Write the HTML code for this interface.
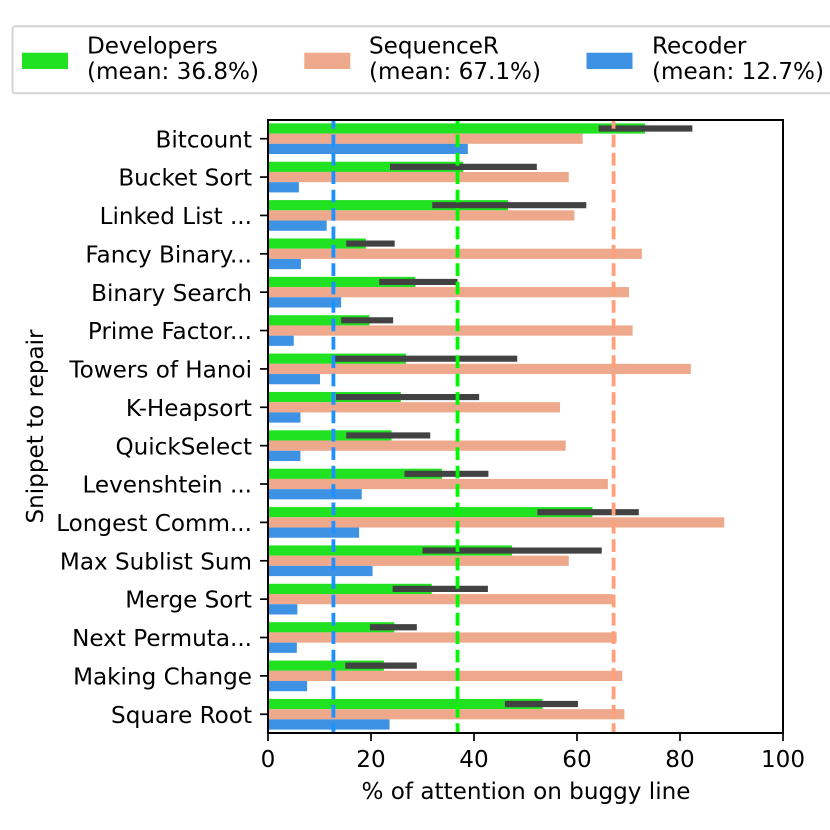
<!DOCTYPE html>
<html lang="en">
<head>
<meta charset="utf-8">
<title>Attention on buggy line</title>
<style>
html,body{margin:0;padding:0;background:#fff;width:830px;height:830px;overflow:hidden}
svg{display:block}
text{font-family:"DejaVu Sans","Liberation Sans",sans-serif;font-size:23.1px;fill:#000}
</style>
</head>
<body>
<svg id="chart" width="830" height="830" viewBox="0 0 830 830" xmlns="http://www.w3.org/2000/svg">
  <g>
    <rect x="12.5" y="26.3" width="830" height="67" rx="3" fill="#fff" stroke="#d4d4d4" stroke-width="2"/>
    <rect x="22" y="52.7" width="46" height="16.3" fill="#21e221"/>
    <text x="87" y="53.6">Developers</text>
    <text x="87" y="79">(mean: 36.8%)</text>
    <rect x="304.3" y="52.7" width="46" height="16.3" fill="#eea98c"/>
    <text x="369" y="53.6">SequenceR</text>
    <text x="369" y="79">(mean: 67.1%)</text>
    <rect x="586.5" y="52.7" width="46" height="16.3" fill="#3d92e4"/>
    <text x="652" y="53.6">Recoder</text>
    <text x="652" y="79">(mean: 12.7%)</text>
  </g>
  <g id="marks"></g>
  <g id="means"></g>
  <rect x="268" y="120" width="515" height="613" fill="none" stroke="#000" stroke-width="2"/>
  <g id="axes"></g>
  <text x="526" y="799" text-anchor="middle">% of attention on buggy line</text>
  <text transform="translate(43 426.5) rotate(-90)" text-anchor="middle">Snippet to repair</text>
</svg>
<script>
const categories = ["Bitcount","Bucket Sort","Linked List ...","Fancy Binary...","Binary Search","Prime Factor...","Towers of Hanoi","K-Heapsort","QuickSelect","Levenshtein ...","Longest Comm...","Max Sublist Sum","Merge Sort","Next Permuta...","Making Change","Square Root"];
const developers = [73.2,37.9,46.6,19,28.6,19.7,26.8,25.8,24,33.8,63,47.4,31.8,24.5,22.5,53.3];
const errLow = [64.2,23.7,31.9,15.2,21.6,14.2,12.7,13.2,15.2,26.5,52.3,30,24.2,19.8,15,46];
const errHigh = [82.4,52.2,61.8,24.6,36.8,24.3,48.4,41,31.5,42.8,72,64.8,42.7,28.9,28.9,60.2];
const sequencer = [61.1,58.4,59.5,72.6,70.1,70.8,82.1,56.7,57.8,66,88.6,58.4,66.8,67.7,68.8,69.2];
const recoder = [38.8,6,11.4,6.4,14.2,5,10.1,6.3,6.3,18.2,17.7,20.3,5.7,5.6,7.6,23.6];
const meanDevelopers = 36.8;
const meanSequencer = 67.1;
const meanRecoder = 12.7;
const xTicks = [0,20,40,60,80,100];

const NS = "http://www.w3.org/2000/svg";
const x = v => 268 + v * 5.15;
const y = i => 138.7 + i * 38.37;
const BAR = 10.23;
const marks = document.getElementById("marks");
const means = document.getElementById("means");
const axes = document.getElementById("axes");

function make(tag, attrs, parent) {
  const el = document.createElementNS(NS, tag);
  for (const k in attrs) el.setAttribute(k, attrs[k]);
  parent.appendChild(el);
  return el;
}
function slug(s) {
  return s.toLowerCase().replace(/[^a-z0-9]+/g, "-").replace(/-+$/, "");
}

categories.forEach((name, i) => {
  const s = slug(name);
  const g = make("rect", {x: x(0), y: y(i) - 1.5 * BAR, width: x(developers[i]) - x(0), height: BAR, fill: "#21e221"}, marks);
  
  
  const q = make("rect", {x: x(0), y: y(i) - 0.5 * BAR, width: x(sequencer[i]) - x(0), height: BAR, fill: "#eea98c"}, marks);
  
  
  const r = make("rect", {x: x(0), y: y(i) + 0.5 * BAR, width: x(recoder[i]) - x(0), height: BAR, fill: "#3d92e4"}, marks);
  
  
});
categories.forEach((name, i) => {
  const e = make("line", {x1: x(errLow[i]), x2: x(errHigh[i]), y1: y(i) - BAR, y2: y(i) - BAR, stroke: "#424242", "stroke-width": 6.2}, marks);
  
  
});

[[meanRecoder, "#1e90ff", "recoder"], [meanDevelopers, "#00f800", "developers"], [meanSequencer, "#ffa07a", "sequencer"]].forEach(m => {
  const l = make("line", {x1: x(m[0]), x2: x(m[0]), y1: 120, y2: 733, stroke: m[1], "stroke-width": 3.8, "stroke-dasharray": "12.7 5.7", "stroke-dashoffset": 3.9}, means);
  
  
});

xTicks.forEach(t => {
  const k = make("line", {x1: x(t), x2: x(t), y1: 733, y2: 741, stroke: "#000", "stroke-width": 1.7}, axes);
  
  
  const lb = make("text", {x: x(t), y: 767, "text-anchor": "middle"}, axes);
  lb.textContent = String(t);
  
  
});
categories.forEach((name, i) => {
  const k = make("line", {x1: 260, x2: 268, y1: y(i), y2: y(i), stroke: "#000", "stroke-width": 1.7}, axes);
  
  
  const lb = make("text", {x: 252, y: y(i) + 8.6, "text-anchor": "end"}, axes);
  lb.textContent = name;
  
  
});
</script>
</body>
</html>
